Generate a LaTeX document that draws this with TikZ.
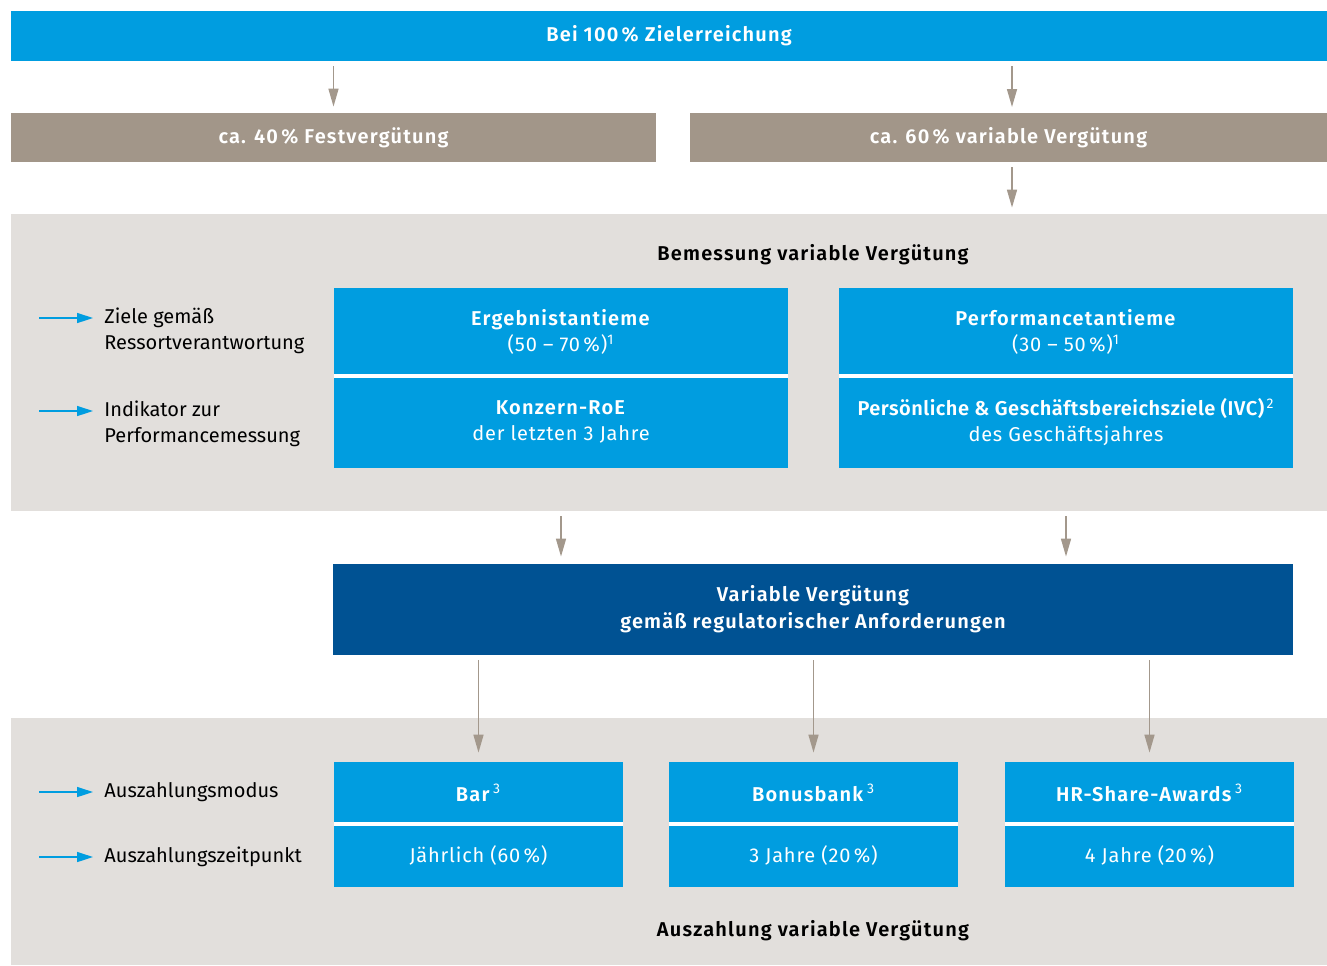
\documentclass[tikz,border=0pt]{standalone}
\usepackage{fontspec}
\setmainfont{Fira Sans}[BoldFont={Fira Sans SemiBold}, BoldFeatures={LetterSpace=6}]
\newfontfamily\boxfont{Fira Sans}[LetterSpace=4, BoldFont={Fira Sans SemiBold}, BoldFeatures={LetterSpace=6}]
\newfontfamily\tightbold{Fira Sans SemiBold}[LetterSpace=2.5]
\usetikzlibrary{arrows.meta}

\begin{document}
\begin{tikzpicture}[x=0.5pt,y=-0.5pt,
    txt/.style={font=\fontsize{10}{13}\selectfont},
    wtxt/.style={font=\boxfont\fontsize{10}{13}\selectfont},
    bluebox/.style={wtxt, fill=myblue, text=white, align=center, inner sep=0pt, minimum width=227pt},
    paybox/.style={wtxt, fill=myblue, text=white, align=center, inner sep=0pt, minimum width=144.5pt},
    greybox/.style={fill=mybrown, text=white, inner sep=0pt, minimum height=24.5pt, font=\fontsize{10}{13}\selectfont\bfseries},
    panel/.style={fill=mypanel, inner sep=0pt, minimum width=658pt},
    sidelabel/.style={txt, anchor=west, align=left, inner sep=0pt, text=black},
    grayarr/.style={-{Triangle[width=5pt,length=9pt]}, draw=myarrow, line width=0.75pt},
    bluearr/.style={-{Triangle[width=5pt,length=8pt]}, draw=myblue, line width=0.75pt},
    gap/.style={white, line width=2pt}
]
    \definecolor{myblue}{RGB}{0,157,224}
    \definecolor{mydarkblue}{RGB}{0,82,147}
    \definecolor{mybrown}{RGB}{162,150,137}
    \definecolor{mypanel}{RGB}{226,223,220}
    \definecolor{myarrow}{RGB}{163,152,140}

    \useasboundingbox (0,0) rectangle (1327,965);

    % top row
    \node[fill=myblue, text=white, inner sep=0pt, minimum width=658pt, minimum height=25pt,
          font=\fontsize{10}{13}\selectfont\bfseries] (ziel) at (669,36) {Bei 100\,\% Zielerreichung};
    \node[greybox, minimum width=322.5pt] (fest) at (333.5,137.5) {ca. 40\,\% Festvergütung};
    \node[greybox, minimum width=318.5pt] (var) at (1008.5,137.5) {ca. 60\,\% variable Vergütung};

    \draw[grayarr, shorten <=2.5pt, shorten >=3pt] (fest.north |- ziel.south) -- (fest.north);
    \draw[grayarr, shorten <=2.5pt, shorten >=3pt] (1012,61) -- (1012,113);

    % Bemessung
    \node[panel, minimum height=148.5pt] (bem) at (669,362.5) {};
    \draw[grayarr, shorten <=2.5pt, shorten >=3pt] (var.south -| 1012,0) -- (bem.north -| 1012,0);
    \node[txt, font=\fontsize{10}{13}\selectfont\bfseries] (bemtitle) at (813,255) {Bemessung variable Vergütung};

    \node[bluebox, minimum height=44pt] (ergeb) at (561,332)
        {\textbf{Ergebnistantieme}\\(50 – 70\,\%)\textsuperscript{1}};
    \node[bluebox, minimum height=46pt] (konzern) at (561,422)
        {\textbf{Konzern-RoE}\\der letzten 3 Jahre};
    \node[bluebox, minimum height=44pt] (perf) at (1066,332)
        {\textbf{Performancetantieme}\\(30 – 50\,\%)\textsuperscript{1}};
    \node[bluebox, minimum height=46pt] (ivc) at (1066,422)
        {{\tightbold Persönliche \& Geschäftsbereichsziele (IVC)}\textsuperscript{\,2}\\des Geschäftsjahres};
    \draw[gap] (ergeb.south west) -- (ergeb.south east);
    \draw[gap] (perf.south west) -- (perf.south east);

    \node[sidelabel] (ziele) at (104,331) {Ziele gemäß\\Ressortverantwortung};
    \node[sidelabel] (indik) at (104,424) {Indikator zur\\Performancemessung};
    \draw[bluearr, shorten >=5.5pt] (39,318) -- (ziele.west |- 0,318);
    \draw[bluearr, shorten >=5.5pt] (39,411) -- (indik.west |- 0,411);

    % variable Vergütung
    \node[fill=mydarkblue, text=white, align=center, inner sep=0pt, minimum width=480pt, minimum height=45.5pt,
          font=\fontsize{10}{13.5}\selectfont\bfseries] (regul) at (813,609.5)
        {Variable Vergütung\\gemäß regulatorischer Anforderungen};
    \draw[grayarr, shorten <=2.5pt, shorten >=3.5pt] (ergeb.south |- bem.south) -- (ergeb.south |- regul.north);
    \draw[grayarr, shorten <=2.5pt, shorten >=3.5pt] (perf.south |- bem.south) -- (perf.south |- regul.north);

    % Auszahlung
    \node[panel, minimum height=123.5pt] (ausz) at (669,841.5) {};
    \node[txt, font=\fontsize{10}{13}\selectfont\bfseries] (ausztitle) at (813,931) {Auszahlung variable Vergütung};

    \node[paybox, minimum height=31pt] (bar) at (478.5,793) {\textbf{Bar}\textsuperscript{\,3}};
    \node[paybox, minimum height=31.5pt] (jahr) at (478.5,855.5) {Jährlich (60\,\%)};
    \node[paybox, minimum height=31pt] (bonus) at (813.5,793) {\textbf{Bonusbank}\textsuperscript{\,3}};
    \node[paybox, minimum height=31.5pt] (drei) at (813.5,855.5) {3 Jahre (20\,\%)};
    \node[paybox, minimum height=31pt] (share) at (1149.5,793) {\textbf{HR-Share-Awards}\textsuperscript{\,3}};
    \node[paybox, minimum height=31.5pt] (vier) at (1149.5,855.5) {4 Jahre (20\,\%)};
    \draw[gap] (bar.south west) -- (bar.south east);
    \draw[gap] (bonus.south west) -- (bonus.south east);
    \draw[gap] (share.south west) -- (share.south east);

    \draw[grayarr, shorten <=2.5pt, shorten >=4.5pt] (bar.north |- regul.south) -- (bar.north);
    \draw[grayarr, shorten <=2.5pt, shorten >=4.5pt] (bonus.north |- regul.south) -- (bonus.north);
    \draw[grayarr, shorten <=2.5pt, shorten >=4.5pt] (share.north |- regul.south) -- (share.north);

    \node[sidelabel] (modus) at (104,792) {Auszahlungsmodus};
    \node[sidelabel] (zeitp) at (104,857) {Auszahlungszeitpunkt};
    \draw[bluearr, shorten >=5.5pt] (39,792) -- (modus.west);
    \draw[bluearr, shorten >=5.5pt] (39,857) -- (zeitp.west);
\end{tikzpicture}
\end{document}
